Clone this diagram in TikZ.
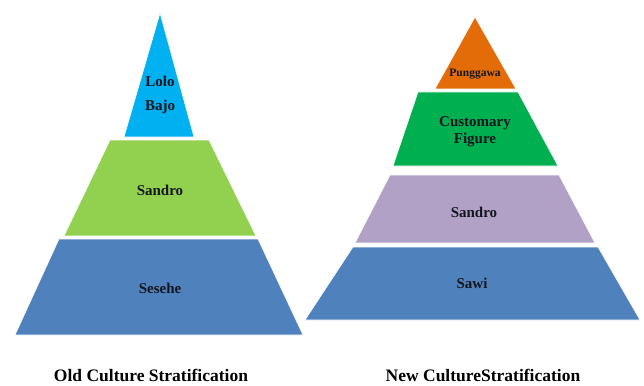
\documentclass[tikz,border=0pt]{standalone}
\usepackage{fontspec}
\setmainfont{Liberation Serif}
\usepackage{tikz}
\usetikzlibrary{positioning}
\definecolor{topcyan}{RGB}{0,176,240}
\definecolor{midgreen}{RGB}{146,208,80}
\definecolor{basblue}{RGB}{79,129,189}
\definecolor{toporange}{RGB}{227,108,9}
\definecolor{custgreen}{RGB}{0,176,80}
\definecolor{lilac}{RGB}{178,161,199}
\definecolor{lbltxt}{RGB}{20,22,30}
\tikzset{
  lvl/.style={draw=white,line width=0.6pt},
  lbl/.style={align=center,font=\fontsize{15}{17}\selectfont\bfseries,text=lbltxt,inner sep=1pt},
  captxt/.style={anchor=base,inner sep=0pt,font=\fontsize{17.5}{20}\selectfont\bfseries,text=black},
}

\begin{document}
\begin{tikzpicture}[x=1pt,y=-1pt]
  \useasboundingbox (0,0) rectangle (644,385);
  % old stratification
  \filldraw[lvl,fill=topcyan] (124,137) -- (160,13) -- (194,137) -- cycle;
  \filldraw[lvl,fill=midgreen] (64,236) -- (110,140) -- (209,140) -- (256,236) -- cycle;
  \filldraw[lvl,fill=basblue] (15,335) -- (59,239) -- (258,239) -- (303,335) -- cycle;
  \node[lbl,font=\fontsize{15}{24}\selectfont\bfseries] (o1) at (160,95) {Lolo\\Bajo};
  \node[lbl] (o2) at (160,190) {Sandro};
  \node[lbl] (o3) at (160,288) {Sesehe};
  \node[captxt] (oc) at (151,381) {Old Culture Stratification};
  % new stratification
  \filldraw[lvl,fill=toporange] (435,89) -- (475,17) -- (516,89) -- cycle;
  \filldraw[lvl,fill=custgreen] (393,166) -- (418,92) -- (518,92) -- (558,166) -- cycle;
  \filldraw[lvl,fill=lilac] (355,243) -- (390,175) -- (559,175) -- (595,243) -- cycle;
  \filldraw[lvl,fill=basblue] (305,320) -- (353,247) -- (598,247) -- (640,320) -- cycle;
  \node[lbl,font=\fontsize{11.5}{13}\selectfont\bfseries] (n1) at (475,74) {Punggawa};
  \node[lbl] (n2) at (475,132) {Customary\\Figure};
  \node[lbl] (n3) at (474,212) {Sandro};
  \node[lbl] (n4) at (472,283) {Sawi};
  \node[captxt] (nc) at (483,381) {New CultureStratification};
\end{tikzpicture}
\end{document}
